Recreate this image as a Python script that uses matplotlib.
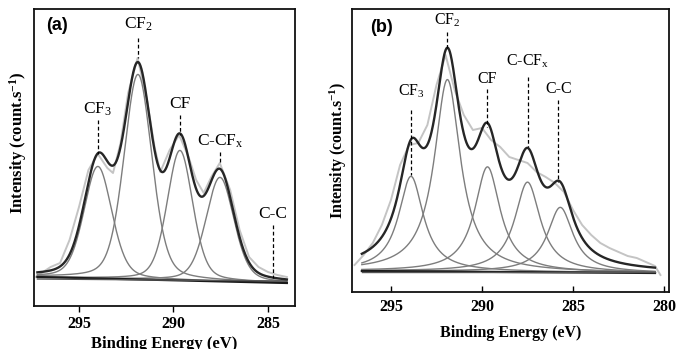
import numpy as np
import matplotlib
matplotlib.use("Agg")
import matplotlib.pyplot as plt

plt.rcParams['font.family'] = ['Liberation Serif', 'DejaVu Serif']
plt.rcParams['mathtext.fontset'] = 'custom'
plt.rcParams['mathtext.rm'] = 'Liberation Serif'
plt.rcParams['mathtext.it'] = 'Liberation Serif:italic'
plt.rcParams['mathtext.bf'] = 'Liberation Serif:bold'

# ---------------- data ----------------
peak_labels = [r"CF$_{\mathrm{3}}$", r"CF$_{\mathrm{2}}$", "CF", r"C-CF$_{\mathrm{x}}$", "C-C"]

# panel (a)
a_centers = [294.0, 291.88, 289.66, 287.54]
a_heights = [112, 205, 130, 104]
a_fwhm = [1.75, 1.75, 1.6, 1.75]
a_label_E = [294.0, 291.88, 289.66, 287.54, 284.74]
a_base_E = [297.2, 284.0]
a_base_1 = [29, 23]
a_base_2 = [27, 25]
a_raw_E = [297.3, 296.5, 296.0, 295.5, 295.0, 294.5, 294.0, 293.5, 293.2, 292.8,
           292.4, 291.9, 291.4, 291.0, 290.7, 290.2, 289.7, 289.2, 288.8, 288.4,
           288.0, 287.55, 287.0, 286.5, 286.0, 285.5, 285.0, 284.5, 284.0]
a_raw_I = [29, 39, 43, 66, 99, 136, 152, 138, 133, 163,
           213, 248, 206, 159, 134, 156, 171, 149, 126, 113,
           129, 143, 116, 76, 49, 39, 34, 31, 29]
a_ticks = [295, 290, 285]

# panel (b)
b_centers = [293.9, 291.9, 289.7, 287.5, 285.7]
b_heights = [95, 192, 105, 90, 65]
b_fwhm = [1.65, 1.74, 1.7, 1.7, 1.7]
b_label_E = [293.9, 291.9, 289.7, 287.5, 285.8]
b_base_E = [296.6, 280.5]
b_base_1 = [21, 19]
b_base_2 = [20, 20]
b_raw_E = [297.0, 296.5, 296.0, 295.5, 295.0, 294.5, 294.0, 293.5, 293.0, 292.5,
           292.0, 291.5, 291.0, 290.5, 290.0, 289.5, 289.0, 288.5, 288.0, 287.5,
           287.0, 286.5, 286.0, 285.5, 285.0, 284.5, 284.0, 283.5, 283.0, 282.5,
           282.0, 281.5, 281.0, 280.5, 280.2]
b_raw_I = [27, 37, 49, 67, 92, 127, 147, 149, 167, 207,
           237, 202, 177, 162, 164, 152, 145, 135, 132, 129,
           120, 115, 109, 100, 82, 67, 57, 49, 44, 40,
           36, 34, 30, 26, 17]
b_ticks = [295, 290, 285, 280]


# ---------------- helpers ----------------
def pvoigt(E, c, h, w, eta):
    hw = w / 2.0
    L = 1.0 / (1.0 + ((E - c) / hw) ** 2)
    G = np.exp(-4 * np.log(2) * ((E - c) / w) ** 2)
    return h * (eta * L + (1 - eta) * G)


comp_color = '#7d7d7d'
env_color = '#262626'
raw_color = '#c4c4c4'


def draw_panel(ax, centers, heights, fwhm, eta, base_E, base1, base2, rawE, rawI):
    E = np.linspace(base_E[0], base_E[1], 800)
    base = np.interp(E, base_E[::-1], base1[::-1])
    ax.plot(rawE, rawI, color=raw_color, lw=1.4, zorder=1)
    env = base.copy()
    for c, h, w in zip(centers, heights, fwhm):
        comp = pvoigt(E, c, h, w, eta)
        env = env + comp
        ax.plot(E, base + comp, color=comp_color, lw=1.0, zorder=2)
    ax.plot(base_E, base1, color='#1a1a1a', lw=1.6, zorder=3)
    ax.plot(base_E, base2, color='#555555', lw=1.0, zorder=3)
    ax.plot(E, env, color=env_color, lw=1.7, zorder=4)


def style_axis(ax, ticks, xlim, ylim, tickdir, pad):
    ax.set_xticks(ticks)
    ax.set_xticklabels([str(v) for v in ticks])
    ax.set_yticks([])
    ax.set_xlim(*xlim)
    ax.set_ylim(*ylim)
    ax.tick_params(axis='x', direction=tickdir, length=4, width=1.0, pad=pad,
                   labelsize=11.5, top=False)
    for lab in ax.get_xticklabels():
        lab.set_fontweight('bold')
    for s in ax.spines.values():
        s.set_linewidth(1.3)
        s.set_color('#111111')


W, H = 676, 349
fig = plt.figure(figsize=(W / 100, H / 100), dpi=100)

# ---------------- panel (a) ----------------
axa = fig.add_axes([34 / W, 1 - 306 / H, (295 - 34) / W, (306 - 9) / H])
draw_panel(axa, a_centers, a_heights, a_fwhm, 0.3, a_base_E, a_base_1, a_base_2,
           a_raw_E, a_raw_I)
style_axis(axa, a_ticks, (297.38, 283.57), (0, 297), 'out', 3.5)

a_lab_v = [188, 273, 194, 156, 84]
a_dash = [(186, 152), (268, 248), (191, 171), (154, 142), (81, 28)]
for lab, E0, lv, (d0, d1) in zip(peak_labels, a_label_E, a_lab_v, a_dash):
    axa.text(E0, lv, lab, ha='center', va='bottom', fontsize=12.5)
    axa.plot([E0, E0], [d0, d1], color='k', lw=0.9, ls=(0, (3, 2)), zorder=5)
axa.text(296.16, 280, "(a)", ha='center', va='center', fontsize=13,
         fontweight='bold', family=['Liberation Sans', 'DejaVu Sans'])
axa.set_xlabel("Binding Energy (eV)", fontsize=12, fontweight='bold')
axa.xaxis.set_label_coords(0.5, -0.100)
axa.xaxis.label.set_va('top')
axa.set_ylabel(r"Intensity (count.s$^{\mathbf{-1}}$)", fontsize=12, fontweight='bold')
axa.yaxis.set_label_coords(-0.061, 0.549)
axa.yaxis.label.set_va('center')

# ---------------- panel (b) ----------------
axb = fig.add_axes([352 / W, 1 - 292 / H, (669 - 352) / W, (292 - 9) / H])
draw_panel(axb, b_centers, b_heights, b_fwhm, 1.0, b_base_E, b_base_1, b_base_2,
           b_raw_E, b_raw_I)
style_axis(axb, b_ticks, (297.14, 279.73), (0, 283), 'in', 5)

b_lab_v = [192, 263, 205, 222, 195]
b_dash = [(182, 117), (260, 242), (203, 165), (215, 145), (192, 110)]
for lab, E0, lv, (d0, d1) in zip(peak_labels, b_label_E, b_lab_v, b_dash):
    axb.text(E0, lv, lab, ha='center', va='bottom', fontsize=11.5)
    axb.plot([E0, E0], [d0, d1], color='k', lw=0.9, ls=(0, (3, 2)), zorder=5)
axb.text(295.5, 265, "(b)", ha='center', va='center', fontsize=13,
         fontweight='bold', family=['Liberation Sans', 'DejaVu Sans'])
axb.set_xlabel("Binding Energy (eV)", fontsize=11.5, fontweight='bold')
axb.xaxis.set_label_coords(0.5, -0.117)
axb.xaxis.label.set_va('top')
axb.set_ylabel(r"Intensity (count.s$^{\mathbf{-1}}$)", fontsize=11.5, fontweight='bold')
axb.yaxis.set_label_coords(-0.044, 0.502)
axb.yaxis.label.set_va('center')

fig.savefig("out.png", dpi=100)
